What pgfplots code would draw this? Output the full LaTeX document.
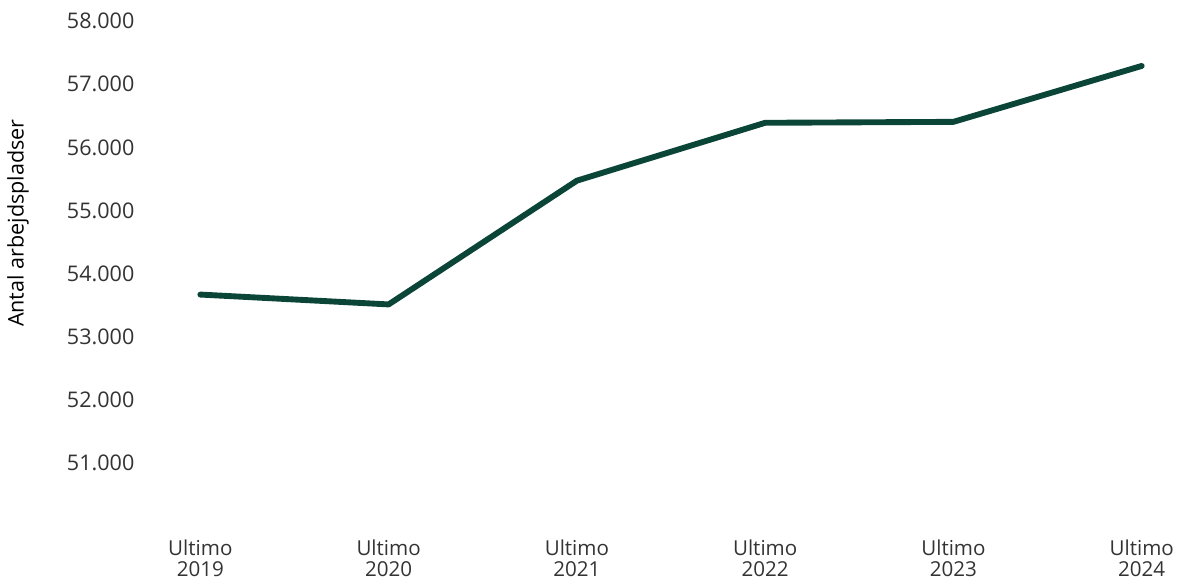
\documentclass[border={0pt 0pt 0pt 3pt}]{standalone}
\usepackage{fontspec}
\setmainfont{Open Sans}
\usepackage{pgfplots}
\pgfplotsset{compat=1.18}
\definecolor{lgreen}{HTML}{0A4538}
\definecolor{txt}{HTML}{333333}
\begin{document}
\fontsize{11}{13}\selectfont
\begin{tikzpicture}
\begin{axis}[
  scale only axis,
  width=519pt, height=258pt,
  xmin=-0.3, xmax=5.1,
  ymin=50000, ymax=58000,
  axis line style={draw=none},
  tick style={draw=none},
  xtick={0,1,2,3,4,5},
  xticklabels={{Ultimo\\2019},{Ultimo\\2020},{Ultimo\\2021},{Ultimo\\2022},{Ultimo\\2023},{Ultimo\\2024}},
  xticklabel style={align=center, font=\fontsize{10.5}{10.5}\selectfont, text=txt, yshift=-3pt},
  ytick={51000,52000,53000,54000,55000,56000,57000,58000},
  yticklabel style={text=txt, xshift=-1pt},
  /pgf/number format/.cd, 1000 sep={.}, assume math mode=true,
  /pgfplots/.cd,
  scaled y ticks=false,
  ylabel={Antal arbejdspladser},
  ylabel style={text=txt},
  every axis y label/.style={at={(ticklabel cs:0.6)}, rotate=90, anchor=south, yshift=12pt},
  clip=false,
]
\addplot[lgreen, line width=3pt, line cap=round, line join=round] coordinates {
  (0,53670) (1,53514) (2,55473) (3,56389) (4,56404) (5,57289)
};
\end{axis}
\end{tikzpicture}
\end{document}
